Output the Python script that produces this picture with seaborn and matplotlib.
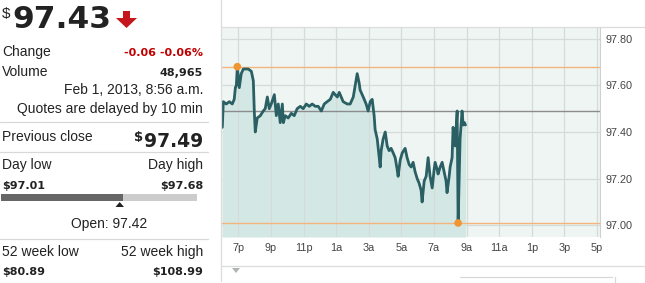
import matplotlib
matplotlib.use("Agg")
import matplotlib.pyplot as plt
import seaborn as sns
import pandas as pd
from matplotlib.patches import Polygon, Rectangle
from matplotlib.lines import Line2D

# ---------------- data ----------------
# hours after 6 p.m. (Jan 31) and price
hours = [0.02, 0.08, 0.26, 0.45, 0.63, 0.75, 0.82, 0.88, 0.94, 1.06, 1.18, 1.31,
         1.61, 1.80, 1.92, 1.98, 2.04, 2.16, 2.35, 2.53, 2.65, 2.78, 2.90, 3.02,
         3.21, 3.33, 3.45, 3.57, 3.70, 3.76, 3.88, 4.06, 4.25, 4.43, 4.61, 4.80,
         4.98, 5.17, 5.35, 5.53, 5.72, 5.90, 6.09, 6.27, 6.45, 6.64, 6.82, 6.94,
         7.07, 7.19, 7.31, 7.43, 7.68, 7.86, 8.05, 8.17, 8.29, 8.41, 8.47, 8.66,
         8.84, 8.96, 9.09, 9.21, 9.33, 9.39, 9.52, 9.70, 9.76, 9.88, 10.01, 10.13,
         10.25, 10.37, 10.50, 10.62, 10.74, 10.80, 10.93, 11.05, 11.23, 11.35, 11.48,
         11.60, 11.72, 11.84, 11.97, 12.09, 12.21, 12.27, 12.40, 12.52, 12.64, 12.76,
         12.89, 13.01, 13.07, 13.19, 13.25, 13.38, 13.50, 13.62, 13.74, 13.80, 13.93,
         13.99, 14.11, 14.17, 14.30, 14.42, 14.48, 14.54, 14.60, 14.72, 14.79, 14.87,
         14.93]
prices = [97.42, 97.53, 97.52, 97.53, 97.52, 97.54, 97.59, 97.60, 97.68, 97.59, 97.65, 97.67,
          97.67, 97.66, 97.62, 97.49, 97.40, 97.46, 97.47, 97.49, 97.50, 97.55, 97.50, 97.52,
          97.56, 97.47, 97.52, 97.44, 97.52, 97.44, 97.47, 97.46, 97.48, 97.47, 97.50, 97.51,
          97.50, 97.52, 97.51, 97.52, 97.51, 97.51, 97.49, 97.52, 97.53, 97.54, 97.57, 97.56,
          97.55, 97.57, 97.55, 97.53, 97.52, 97.52, 97.55, 97.60, 97.65, 97.61, 97.58, 97.55,
          97.52, 97.49, 97.53, 97.54, 97.47, 97.41, 97.37, 97.25, 97.32, 97.37, 97.40, 97.34,
          97.32, 97.33, 97.31, 97.29, 97.24, 97.21, 97.28, 97.31, 97.33, 97.29, 97.26,
          97.25, 97.27, 97.23, 97.20, 97.18, 97.15, 97.10, 97.19, 97.21, 97.29, 97.21,
          97.16, 97.24, 97.27, 97.24, 97.22, 97.25, 97.27, 97.23, 97.19, 97.14, 97.21,
          97.25, 97.29, 97.42, 97.34, 97.49, 97.01, 97.19, 97.37, 97.49, 97.43, 97.44,
          97.43]

xtick_pos = [1, 3, 5, 7, 9, 11, 13, 15, 17, 19, 21, 23]
xtick_labels = ["7p", "9p", "11p", "1a", "3a", "5a", "7a", "9a", "11a", "1p", "3p", "5p"]
ytick_vals = [97.00, 97.20, 97.40, 97.60, 97.80]

prev_close = 97.49
day_low = 97.01
day_high = 97.68
high_time = 0.94
low_time = 14.48

# ---------------- style ----------------
sns.set_theme(style="white")
plt.rcParams["font.family"] = ["Liberation Sans", "DejaVu Sans"]

W, H = 645, 283
fig = plt.figure(figsize=(W / 100, H / 100), dpi=100)
fig.patch.set_facecolor("white")

def fx(px):
    return px / W

def fy(py):
    return 1 - py / H

LINE = "#2a5f63"
FILL = "#d3e8e5"
BG = "#eef5f3"
GRID = "#d3dcd9"
ORANGE = "#f4b47c"
DOT = "#ef9531"
TXT = "#222222"
RED = "#c00000"

# ---------------- chart ----------------
ax = fig.add_axes([fx(222), fy(237), fx(600) - fx(222), fy(27) - fy(237)])
ax.set_facecolor(BG)
df = pd.DataFrame({"t": hours, "p": prices})
ymin, ymax = 96.95, 97.85
ax.fill_between(df["t"], df["p"], ymin, color=FILL, lw=0, zorder=1)
for v in ytick_vals:
    ax.axhline(v, color=GRID, lw=0.9, zorder=0.5)
for v in xtick_pos:
    ax.axvline(v, color=GRID, lw=0.9, zorder=1.5)
ax.axhline(day_high, color=ORANGE, lw=1.0, zorder=2)
ax.axhline(day_low, color=ORANGE, lw=1.0, zorder=2)
ax.axhline(prev_close, color="#8c8c8c", lw=1.0, zorder=2)
sns.lineplot(data=df, x="t", y="p", ax=ax, color=LINE, lw=2.0, estimator=None,
             sort=False, zorder=3)
pts = pd.DataFrame({"t": [high_time, low_time], "p": [day_high, day_low]})
sns.scatterplot(data=pts, x="t", y="p", ax=ax, color=DOT, s=30, edgecolor="none", zorder=4)

ax.set_xlim(0, 23.18)
ax.set_ylim(ymin, ymax)
ax.set_xticks(xtick_pos)
ax.set_xticklabels(xtick_labels)
ax.set_yticks(ytick_vals)
ax.set_yticklabels([f"{v:.2f}" for v in ytick_vals])
ax.yaxis.tick_right()
ax.tick_params(axis="both", length=0, labelsize=7.8, labelcolor="#444444")
ax.tick_params(axis="y", pad=4)
ax.tick_params(axis="x", pad=4)
ax.set_xlabel("")
ax.set_ylabel("")
for s in ["top", "bottom", "left"]:
    ax.spines[s].set_visible(False)
ax.spines["right"].set_color("#d0d0d0")
ax.spines["right"].set_linewidth(0.8)

# chart frame lines
fig.add_artist(Line2D([fx(221), fx(221)], [fy(0), fy(281)], color="#dcdcdc", lw=0.9))
fig.add_artist(Line2D([fx(221), 1], [fy(27), fy(27)], color="#dcdcdc", lw=0.9))
fig.add_artist(Line2D([fx(221), 1], [fy(266), fy(266)], color="#dcdcdc", lw=0.9))
fig.add_artist(Line2D([fx(460), fx(612)], [fy(277), fy(277)], color="#d8d8d8", lw=0.9))
fig.add_artist(Line2D([fx(615), fx(615)], [fy(277), fy(283)], color="#d8d8d8", lw=0.9))
fig.add_artist(Polygon([[fx(232), fy(268)], [fx(240), fy(268)], [fx(236), fy(273)]],
                       closed=True, color="#b0b4b6", lw=0))

# ---------------- left panel ----------------
R = 203
def t(x, y, s, **kw):
    kw.setdefault("color", TXT)
    kw.setdefault("fontsize", 10)
    kw.setdefault("va", "baseline")
    fig.text(fx(x), fy(y), s, **kw)

t(2, 18, "$", fontsize=11)
t(12, 28, "97.43", fontsize=22.5, fontweight="bold", family="DejaVu Sans")
fig.add_artist(Polygon([[fx(123), fy(11)], [fx(130), fy(11)], [fx(130), fy(18)],
                        [fx(137), fy(18)], [fx(126.5), fy(28)], [fx(116), fy(18)],
                        [fx(123), fy(18)]], closed=True, color="#c4161c", lw=0))

t(2, 56, "Change")
t(R, 56, "-0.06 -0.06%", ha="right", fontsize=8, fontweight="bold",
  family="DejaVu Sans", color=RED)
t(2, 76, "Volume")
t(R, 76, "48,965", ha="right", fontsize=8, fontweight="bold", family="DejaVu Sans")
t(R, 94, "Feb 1, 2013, 8:56 a.m.", ha="right")
t(R, 113, "Quotes are delayed by 10 min", ha="right")
fig.add_artist(Line2D([fx(0), fx(208)], [fy(122), fy(122)], color="#d8d8d8", lw=0.9))

t(2, 141, "Previous close")
t(R, 147, "97.49", ha="right", fontsize=13.5, fontweight="bold", family="DejaVu Sans")
t(134, 141, "$", fontsize=9.5, fontweight="bold", family="DejaVu Sans")
fig.add_artist(Line2D([fx(0), fx(208)], [fy(152), fy(152)], color="#d8d8d8", lw=0.9))

t(2, 169, "Day low")
t(R, 169, "Day high", ha="right")
t(2, 189, "$97.01", fontsize=8, fontweight="bold", family="DejaVu Sans")
t(R, 189, "$97.68", ha="right", fontsize=8, fontweight="bold", family="DejaVu Sans")
fig.add_artist(Rectangle((fx(1), fy(201)), fx(123) - fx(1), fy(194) - fy(201),
                         color="#666666", lw=0))
fig.add_artist(Rectangle((fx(123), fy(201)), fx(197) - fx(123), fy(194) - fy(201),
                         color="#cccccc", lw=0))
fig.add_artist(Polygon([[fx(115.5), fy(207)], [fx(124), fy(207)], [fx(119.7), fy(202)]],
                       closed=True, color="#222222", lw=0))
t(109, 228, "Open: 97.42", ha="center")
fig.add_artist(Line2D([fx(0), fx(208)], [fy(239), fy(239)], color="#d8d8d8", lw=0.9))

t(2, 256, "52 week low")
t(R, 256, "52 week high", ha="right")
t(2, 275, "$80.89", fontsize=8, fontweight="bold", family="DejaVu Sans")
t(R, 275, "$108.99", ha="right", fontsize=8, fontweight="bold", family="DejaVu Sans")

fig.savefig("out.png", dpi=100, facecolor="white")
